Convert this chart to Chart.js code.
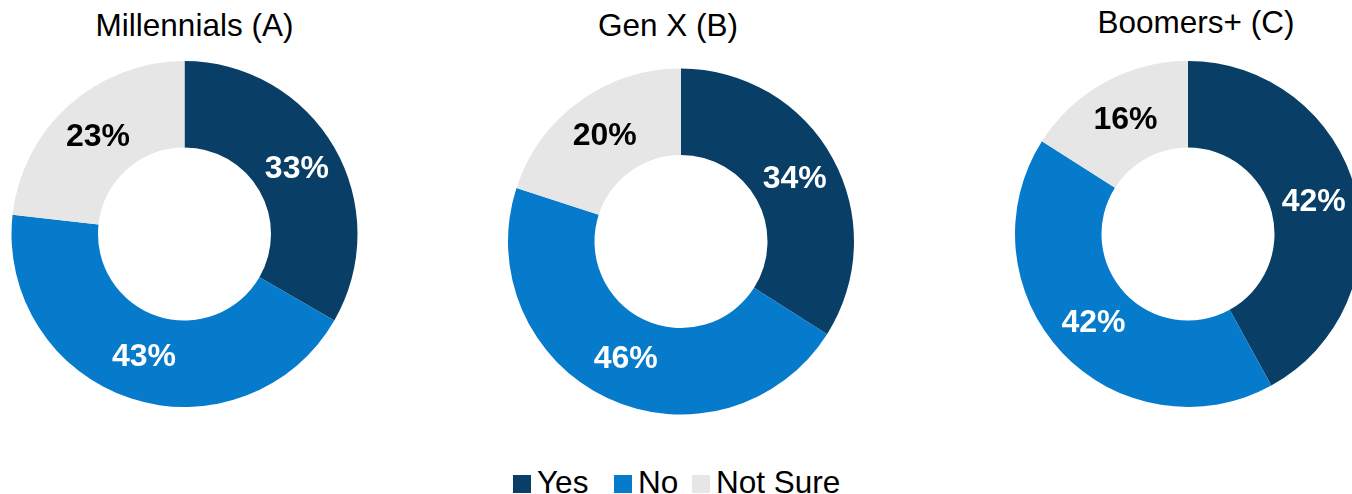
<!DOCTYPE html>
<html>
<head>
<meta charset="utf-8">
<script src="https://cdn.jsdelivr.net/npm/chart.js@4.4.1/dist/chart.umd.min.js"></script>
<style>
  html, body {
    margin: 0;
    padding: 0;
    width: 1352px;
    height: 494px;
    overflow: hidden;
    background: #ffffff;
    font-family: "Liberation Sans", Arial, Helvetica, sans-serif;
  }
  canvas { position: absolute; }
  .title {
    position: absolute;
    width: 300px;
    text-align: center;
    font-size: 31.5px;
    line-height: 32px;
    color: #000000;
    white-space: nowrap;
  }
  .legend-item {
    position: absolute;
    top: 467px;
    height: 30px;
    font-size: 31.5px;
    line-height: 30px;
    color: #000000;
    white-space: nowrap;
  }
  .legend-item .swatch {
    position: absolute;
    left: 0;
    top: 8px;
    width: 18px;
    height: 18px;
  }
  .legend-item .text {
    position: absolute;
    left: 24px;
    top: 0;
  }
</style>
</head>
<body>
<canvas id="chartA" width="360" height="360"></canvas>
<canvas id="chartB" width="360" height="360"></canvas>
<canvas id="chartC" width="360" height="360"></canvas>
<div id="legend"></div>

<script>
// survey answers per generation, in percent
const groups = ['Millennials (A)', 'Gen X (B)', 'Boomers+ (C)'];
const answers = ['Yes', 'No', 'Not Sure'];
const millennials = [33, 43, 23];
const genX = [34, 46, 20];
const boomers = [42, 42, 16];

const answerColors = ['#093E66', '#077BCB', '#E6E6E6'];
const labelColors = ['#FFFFFF', '#FFFFFF', '#000000'];

// where each donut sits on the page
const layouts = [
  { id: 'chartA', left: 4, top: 54, pad: { left: 1 }, titleX: 194.5, titleTop: 9 },
  { id: 'chartB', left: 501, top: 61, pad: { top: 1 }, titleX: 668, titleTop: 9 },
  { id: 'chartC', left: 1008, top: 54, pad: {}, titleX: 1196, titleTop: 6 }
];
const legendLeft = [513, 614, 692];

// writes "NN%" in the middle of every slice
const sliceLabels = {
  id: 'sliceLabels',
  afterDatasetsDraw(chart) {
    const { ctx } = chart;
    const meta = chart.getDatasetMeta(0);
    const values = chart.data.datasets[0].data;
    ctx.save();
    ctx.font = 'bold 32px "Liberation Sans", Arial, sans-serif';
    ctx.textAlign = 'center';
    ctx.textBaseline = 'middle';
    meta.data.forEach((arc, i) => {
      const { x, y } = arc.tooltipPosition(true);
      ctx.fillStyle = labelColors[i];
      ctx.fillText(`${values[i]}%`, x, y);
    });
    ctx.restore();
  }
};

[millennials, genX, boomers].forEach((values, i) => {
  const spot = layouts[i];
  const canvas = document.getElementById(spot.id);
  canvas.style.left = spot.left + 'px';
  canvas.style.top = spot.top + 'px';

  const title = document.createElement('div');
  title.className = 'title';
  title.textContent = groups[i];
  title.style.left = (spot.titleX - 150) + 'px';
  title.style.top = spot.titleTop + 'px';
  document.body.appendChild(title);

  new Chart(canvas, {
    type: 'doughnut',
    data: {
      labels: answers,
      datasets: [{
        data: values,
        backgroundColor: answerColors,
        borderWidth: 0
      }]
    },
    options: {
      responsive: false,
      animation: false,
      events: [],
      radius: 173,
      cutout: '50%',
      layout: { padding: spot.pad },
      plugins: {
        legend: { display: false },
        tooltip: { enabled: false }
      }
    },
    plugins: [sliceLabels]
  });
});

// shared legend under the three donuts
const legend = document.getElementById('legend');
answers.forEach((answer, i) => {
  const item = document.createElement('div');
  item.className = 'legend-item';
  item.style.left = legendLeft[i] + 'px';
  const swatch = document.createElement('span');
  swatch.className = 'swatch';
  swatch.style.background = answerColors[i];
  const text = document.createElement('span');
  text.className = 'text';
  text.textContent = answer;
  item.appendChild(swatch);
  item.appendChild(text);
  legend.appendChild(item);
});
</script>
</body>
</html>
